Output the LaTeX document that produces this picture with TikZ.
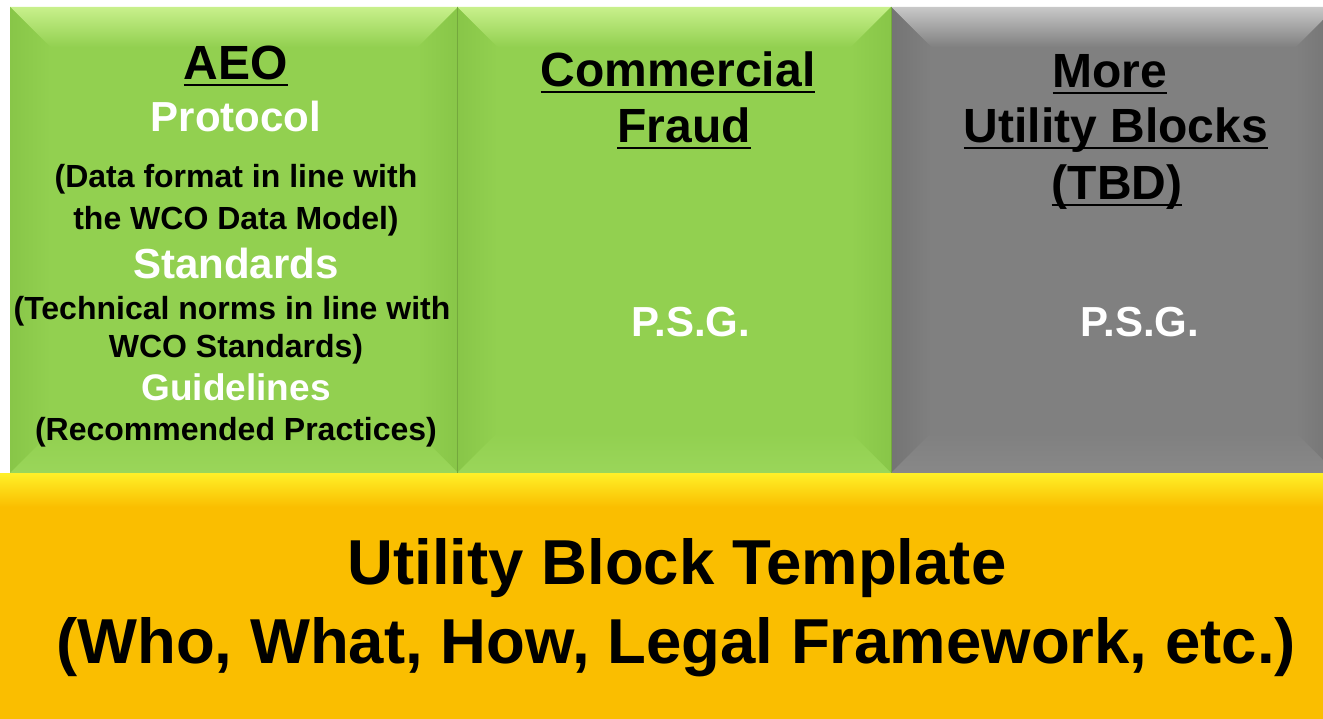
\documentclass[tikz,border=0pt]{standalone}
\usepackage{fontspec}
\setmainfont{Liberation Sans}
\usetikzlibrary{calc}
\definecolor{gbase}{RGB}{146,208,80}
\definecolor{glight}{RGB}{200,240,140}
\definecolor{gdark}{RGB}{136,198,72}
\definecolor{gbot}{RGB}{154,214,90}
\definecolor{kbase}{RGB}{128,128,128}
\definecolor{klight}{RGB}{200,200,200}
\definecolor{kdark}{RGB}{116,116,116}
\definecolor{kbot}{RGB}{136,136,136}
\definecolor{ybase}{RGB}{250,190,0}
\definecolor{ylight}{RGB}{255,240,40}
\tikzset{
  blockbox/.style={rectangle, inner sep=0pt, outer sep=0pt, anchor=north west},
  txt/.style={inner sep=0pt, outer sep=0pt, anchor=base, align=center},
  head/.style={txt, font=\fontsize{48}{48}\selectfont\bfseries, text=black},
  whead/.style={txt, font=\fontsize{42}{42}\selectfont\bfseries, text=white},
  small/.style={txt, font=\fontsize{32}{32}\selectfont\bfseries, text=black},
  big/.style={txt, font=\fontsize{63.5}{63.5}\selectfont\bfseries, text=black},
  uline/.style={line width=2.8pt, black},
}
\newcommand{\bevelbox}[5]{%
  \shade[top color=#2, bottom color=#5] (#1.north west) -- (#1.north east) -- ([shift={(-40,40)}]#1.north east) -- ([shift={(40,40)}]#1.north west) -- cycle;
  \shade[left color=#3, right color=#5] (#1.north west) -- ([shift={(40,40)}]#1.north west) -- ([shift={(40,-40)}]#1.south west) -- (#1.south west) -- cycle;
  \shade[right color=#3, left color=#5] (#1.north east) -- ([shift={(-40,40)}]#1.north east) -- ([shift={(-40,-40)}]#1.south east) -- (#1.south east) -- cycle;
  \shade[bottom color=#4, top color=#5] (#1.south west) -- ([shift={(40,-40)}]#1.south west) -- ([shift={(-40,-40)}]#1.south east) -- (#1.south east) -- cycle;
}
\newcommand{\uln}[1]{\draw[uline] ([yshift=-5pt]#1.base west) -- ([yshift=-5pt]#1.base east);}
\begin{document}
\begin{tikzpicture}[x=1pt,y=-1pt]
\useasboundingbox (0,0) rectangle (1323,719);
\fill[white] (0,0) rectangle (1323,719);

% blocks
\node[blockbox, fill=gbase, minimum width=448pt, minimum height=466pt] (b1) at (10,7) {};
\bevelbox{b1}{glight}{gdark}{gbot}{gbase}
\node[blockbox, fill=gbase, minimum width=434pt, minimum height=466pt] (b2) at (457,7) {};
\bevelbox{b2}{glight}{gdark}{gbot}{gbase}
\node[blockbox, fill=kbase, minimum width=445pt, minimum height=466pt] (b3) at (891,7) {};
\bevelbox{b3}{klight}{kdark}{kbot}{kbase}
\draw[gdark!85!black, line width=1pt] (b2.north west) -- (b2.south west);
\draw[gdark!85!black, line width=1pt] (b3.north west) -- (b3.south west);

% template bar
\node[blockbox, fill=ybase, minimum width=1323pt, minimum height=246pt] (tmpl) at (0,473) {};
\shade[top color=ylight, bottom color=ybase] (tmpl.north west) rectangle ([yshift=-34pt]tmpl.north east);

% block 1 text
\node[head] (aeo) at (236,80) {AEO};
\uln{aeo}
\node[whead] (proto) at (236,132) {Protocol};
\node[small] (d1) at (236,188) {(Data format in line with};
\node[small] (d2) at (236,230) {the WCO Data Model)};
\node[whead] (std) at (236,279) {Standards};
\node[small] (t1) at (232,320) {(Technical norms in line with};
\node[small] (t2) at (236,358) {WCO Standards)};
\node[txt, font=\fontsize{37}{37}\selectfont\bfseries, text=white] (gl) at (236,400) {Guidelines};
\node[small] (rp) at (236,440) {(Recommended Practices)};

% block 2 text
\node[head] (cf1) at (678,87) {Commercial};
\uln{cf1}
\node[head] (cf2) at (684,143) {Fraud};
\uln{cf2}
\node[whead] (psg1) at (691,337) {P.S.G.};

% block 3 text
\node[head] (m1) at (1110,88) {More};
\uln{m1}
\node[head] (m2) at (1116,143) {Utility Blocks};
\uln{m2}
\node[head] (m3) at (1117,200) {(TBD)};
\uln{m3}
\node[whead] (psg2) at (1140,337) {P.S.G.};

% template text
\node[big] (ut1) at (677,584) {Utility Block Template};
\node[big] (ut2) at (676,663) {(Who, What, How, Legal Framework, etc.)};
\end{tikzpicture}
\end{document}
